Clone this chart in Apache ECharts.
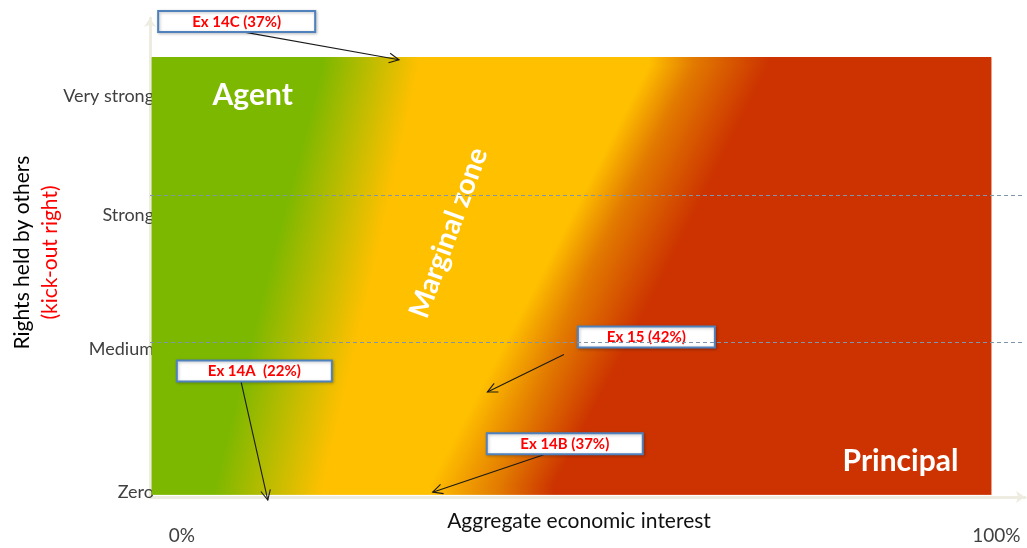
<!DOCTYPE html>
<html>
<head>
<meta charset="utf-8">
<script src="https://cdn.jsdelivr.net/npm/echarts@6/dist/echarts.min.js"></script>
<style>html,body{margin:0;padding:0;background:#fff;}#chart{width:1027px;height:548px;}</style>
</head>
<body>
<div id="chart"></div>
<script>
// ---- data ----
const xTickValues = [3.8, 100.6];
const xTickLabels = ['0%', '100%'];
const yTickValues = [1.1, 33.7, 64.2, 91.3];
const yTickLabels = ['Zero', 'Medium', 'Strong', 'Very strong'];
const levelLines = [35.3, 68.7];

// colour-zone boundaries (x, % of economic interest) at three heights of the rights axis
const zoneRowY = [2.7, 51.7, 98.3];
const greenEnd = [7.8, 14.2, 20.6];
const yellowStart = [20.6, 26.6, 32.0];
const yellowEnd = [33.2, 46.8, 59.3];
const orangeMid = [41.5, 52.2, 64.6];
const redStart = [48.0, 61.4, 73.5];

const zoneNames = ['Agent', 'Marginal zone', 'Principal'];
const zoneNameX = [12.2, 35.5, 89.2];
const zoneNameY = [91.5, 60.1, 8.2];

const exNames = ['Ex 14C (37%)', 'Ex 14A  (22%)', 'Ex 15 (42%)', 'Ex 14B (37%)'];
const exBoxX = [10.3, 12.4, 59.0, 49.3];
const exBoxY = [108.2, 28.7, 36.4, 12.1];
const exFromX = [9.7, 10.8, 49.2, 46.8];
const exFromY = [106.3, 26.4, 32.4, 9.6];
const exToX = [29.6, 14.0, 40.1, 33.6];
const exToY = [99.5, -0.7, 23.9, 1.1];

// ---- styles ----
const zoneColors = ['#7db800', '#ffc000', '#e27a00', '#cc3300'];
const boxW = [157, 155, 137, 156];
const boxH = 21;
const zoneNameRot = [0, 70, 0];
const zoneNameSize = [30, 28.5, 30];
const FONT = 'Lato, "Open Sans", sans-serif';

const chart = echarts.init(document.getElementById('chart'), null, {renderer: 'canvas'});

function lerpRows(arr, t, seg) { return arr[seg] + (arr[seg + 1] - arr[seg]) * t; }

const option = {
  backgroundColor: '#ffffff',
  animation: false,
  grid: {left: 150, right: 2, top: 18, bottom: 51, outerBoundsMode: 'none', containLabel: false},
  xAxis: {
    type: 'value', min: 0, max: 104,
    axisLine: {show: true, lineStyle: {color: '#eeece1', width: 3}, symbol: ['none', 'arrow'], symbolSize: [9, 9]},
    axisTick: {show: false},
    splitLine: {show: false},
    axisLabel: {
      customValues: xTickValues,
      formatter: v => xTickLabels[xTickValues.indexOf(v)] || '',
      fontFamily: FONT, fontSize: 19, color: '#404040', margin: 29
    },
    name: 'Aggregate economic interest',
    nameLocation: 'middle', nameGap: 14, nameMoveOverlap: false,
    nameTextStyle: {fontFamily: FONT, fontSize: 21, color: '#111', padding: [0, 17, 0, 0]}
  },
  yAxis: {
    type: 'value', min: 0, max: 109,
    axisLine: {show: true, lineStyle: {color: '#eeece1', width: 3}, symbol: ['none', 'arrow'], symbolSize: [9, 9]},
    axisTick: {show: false},
    splitLine: {show: false},
    axisLabel: {
      customValues: yTickValues,
      formatter: v => yTickLabels[yTickValues.indexOf(v)] || '',
      fontFamily: FONT, fontSize: 18, color: '#404040', margin: -4
    },
    name: '{a|Rights held by others}\n{b|(kick-out right)}',
    nameLocation: 'middle', nameRotate: 90, nameGap: 86, nameMoveOverlap: false,
    nameTextStyle: {
      fontSize: 21, fontFamily: FONT, padding: [0, 0, 0, 10],
      rich: {
        a: {fontFamily: FONT, fontSize: 21, color: '#000', lineHeight: 28},
        b: {fontFamily: FONT, fontSize: 21, color: '#ff0000', lineHeight: 28}
      }
    }
  },
  series: [
    {
      type: 'custom', name: 'zones', z: 2,
      data: [[0.2, 0.5, 100, 100]],
      renderItem: function (params, api) {
        const p0 = api.coord([api.value(0), api.value(1)]);
        const p1 = api.coord([api.value(2), api.value(3)]);
        const left = p0[0], right = p1[0], top = p1[1], bottom = p0[1];
        const w = right - left;
        const rowPx = zoneRowY.map(v => api.coord([0, v])[1]);
        const toPx = v => api.coord([v, 0])[0];
        const children = [];
        for (let py = Math.floor(top); py < bottom; py += 1) {
          let seg = 0;
          if (py < rowPx[1]) seg = 1;
          let t = (rowPx[seg] - py) / (rowPx[seg] - rowPx[seg + 1]);
          t = Math.max(0, Math.min(1, t));
          const off = arr => Math.max(0, Math.min(1, (toPx(lerpRows(arr, t, seg)) - left) / w));
          const stops = [
            {offset: 0, color: zoneColors[0]},
            {offset: off(greenEnd), color: zoneColors[0]},
            {offset: off(yellowStart), color: zoneColors[1]},
            {offset: off(yellowEnd), color: zoneColors[1]},
            {offset: off(orangeMid), color: zoneColors[2]},
            {offset: off(redStart), color: zoneColors[3]},
            {offset: 1, color: zoneColors[3]}
          ];
          const h = Math.min(1.6, bottom - py);
          children.push({
            type: 'rect',
            shape: {x: left, y: py, width: w, height: h},
            style: {fill: new echarts.graphic.LinearGradient(0, 0, 1, 0, stops)}
          });
        }
        return {type: 'group', children: children};
      },
      markLine: {
        silent: true, symbol: ['none', 'none'],
        label: {show: false},
        lineStyle: {type: [4, 3], color: '#7f95ad', width: 1},
        data: levelLines.map(v => ({yAxis: v}))
      }
    },
    {
      type: 'custom', name: 'zoneNames', z: 3,
      data: zoneNames.map((n, i) => [zoneNameX[i], zoneNameY[i], i]),
      renderItem: function (params, api) {
        const i = api.value(2);
        const p = api.coord([api.value(0), api.value(1)]);
        return {
          type: 'text',
          x: p[0], y: p[1],
          rotation: zoneNameRot[i] * Math.PI / 180,
          style: {
            text: zoneNames[i], x: 0, y: 0,
            fill: '#ffffff', align: 'center', verticalAlign: 'middle',
            font: 'bold ' + zoneNameSize[i] + 'px ' + FONT
          }
        };
      }
    },
    {
      type: 'custom', name: 'examples', z: 4,
      data: exNames.map((n, i) => [exBoxX[i], exBoxY[i], exFromX[i], exFromY[i], exToX[i], exToY[i], i]),
      renderItem: function (params, api) {
        const i = api.value(6);
        const c = api.coord([api.value(0), api.value(1)]);
        const s = api.coord([api.value(2), api.value(3)]);
        const e = api.coord([api.value(4), api.value(5)]);
        const dx = e[0] - s[0], dy = e[1] - s[1];
        const len = Math.sqrt(dx * dx + dy * dy);
        const ux = dx / len, uy = dy / len;
        const L = 11, a = 26 * Math.PI / 180;
        const h1 = [e[0] - L * (ux * Math.cos(a) - uy * Math.sin(a)), e[1] - L * (ux * Math.sin(a) + uy * Math.cos(a))];
        const h2 = [e[0] - L * (ux * Math.cos(-a) - uy * Math.sin(-a)), e[1] - L * (ux * Math.sin(-a) + uy * Math.cos(-a))];
        const w = boxW[i];
        return {
          type: 'group',
          children: [
            {type: 'line', shape: {x1: s[0], y1: s[1], x2: e[0], y2: e[1]}, style: {stroke: '#1a1a1a', lineWidth: 1.1}},
            {type: 'polyline', shape: {points: [h1, e, h2]}, style: {stroke: '#1a1a1a', lineWidth: 1.1, fill: null}},
            {
              type: 'rect',
              shape: {x: c[0] - w / 2, y: c[1] - boxH / 2, width: w, height: boxH},
              style: {fill: '#ffffff', stroke: '#4f81bd', lineWidth: 2, shadowBlur: 3, shadowColor: 'rgba(0,0,0,0.25)', shadowOffsetX: 1, shadowOffsetY: 1}
            },
            {
              type: 'text',
              style: {
                text: exNames[i], x: c[0], y: c[1] + 0.5,
                fill: '#ff0000', align: 'center', verticalAlign: 'middle',
                font: 'bold 15px ' + FONT
              }
            }
          ]
        };
      }
    }
  ]
};
chart.setOption(option);
</script>
</body>
</html>
